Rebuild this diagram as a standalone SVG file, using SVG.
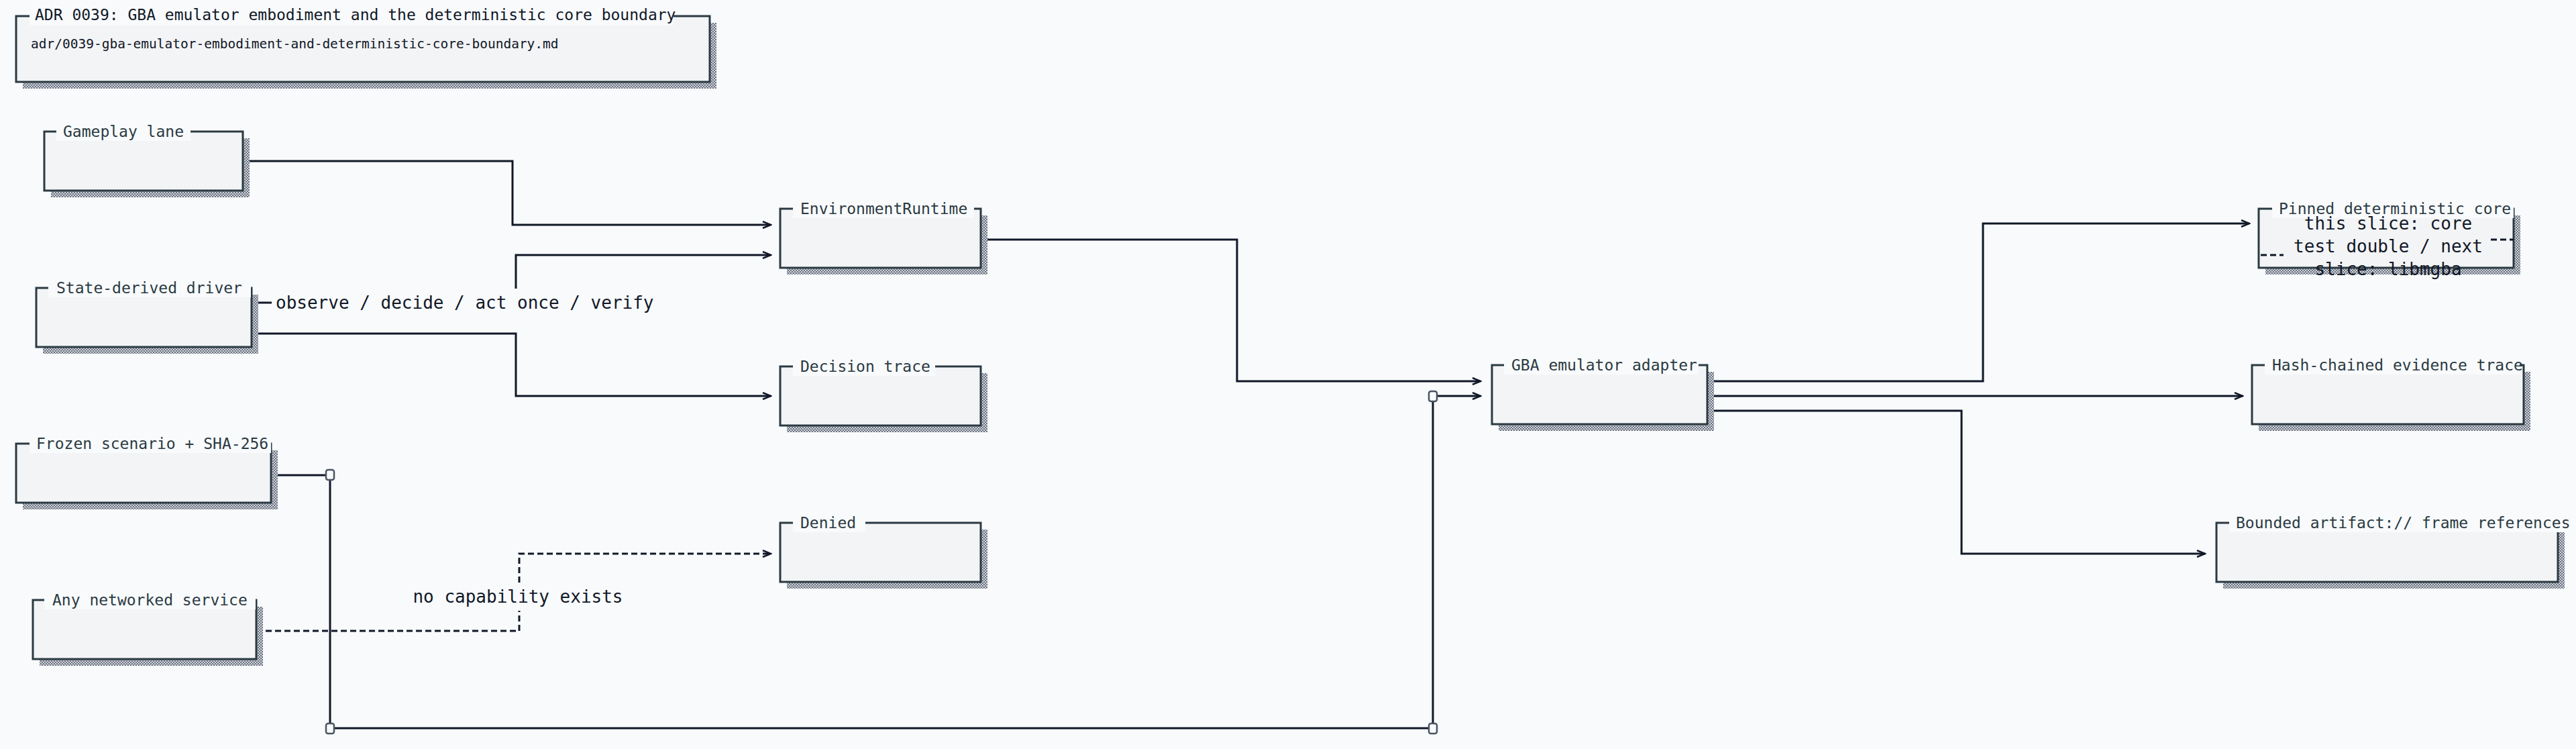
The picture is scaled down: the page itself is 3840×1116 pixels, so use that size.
<svg xmlns="http://www.w3.org/2000/svg" width="3840" height="1116" viewBox="0 0 3840 1116">
<style>
.box{fill:#f3f4f6;stroke:#2b3a42;stroke-width:3}
.sh{fill:url(#hatch)}
.lb{font-family:"DejaVu Sans Mono",monospace;font-size:23px;fill:#2b3a42}
.lbg{fill:#f8fafc}
.c{fill:none;stroke:#111827;stroke-width:3}
.d{stroke-dasharray:9 5}
.el{font-family:"DejaVu Sans Mono",monospace;font-size:26px;fill:#111827}
.j{fill:#f8fafc;stroke:#4b5563;stroke-width:2.5}
</style>
<defs>
<pattern id="hatch" width="4" height="4" patternUnits="userSpaceOnUse">
<rect width="4" height="4" fill="#d1d5db"/>
<rect width="2" height="2" fill="#6b7280"/>
<rect x="2" y="2" width="2" height="2" fill="#6b7280"/>
</pattern>
<marker id="a" markerWidth="16" markerHeight="12" refX="14" refY="6" orient="auto" markerUnits="userSpaceOnUse">
<path d="M2,1 L14,6 L2,11" fill="none" stroke="#111827" stroke-width="2.5"/>
</marker>
</defs>
<rect width="3840" height="1116" fill="#f8fafc"/>

<g id="title">
<rect class="sh" x="34" y="34" width="1034" height="98"/>
<rect class="box" x="24" y="24" width="1034" height="98"/>
<rect class="lbg" x="44" y="10" width="960" height="28"/>
<text class="lb" x="52" y="30" style="fill:#111827">ADR 0039: GBA emulator embodiment and the deterministic core boundary</text>
<text x="46" y="72" style="font-family:'DejaVu Sans Mono',monospace;font-size:19.5px;fill:#111827">adr/0039-gba-emulator-embodiment-and-deterministic-core-boundary.md</text>
</g>

<g id="connectors">
<path class="c" d="M362,240 H764 V335 H1149" marker-end="url(#a)"/>
<path class="c" d="M375,451 H405 M769,430 V380 H1149" marker-end="url(#a)"/>
<path class="c" d="M375,497 H769 V590 H1149" marker-end="url(#a)"/>
<path class="c" d="M404,708 H492 V1085 H2136 V590 H2207" marker-end="url(#a)"/>
<path class="c d" d="M382,940 H774 V910 M774,868 V825 H1149" marker-end="url(#a)"/>
<path class="c" d="M1462,357 H1844 V568 H2207" marker-end="url(#a)"/>
<path class="c" d="M2545,568 H2956 V333 H3353" marker-end="url(#a)"/>
<path class="c" d="M2545,590 H3343" marker-end="url(#a)"/>
<path class="c" d="M2545,612 H2924 V825 H3287" marker-end="url(#a)"/>
<rect class="j" x="486" y="700" width="12" height="15" rx="3"/>
<rect class="j" x="486" y="1078" width="12" height="15" rx="3"/>
<rect class="j" x="2130" y="1078" width="12" height="15" rx="3"/>
<rect class="j" x="2130" y="583" width="12" height="15" rx="3"/>
<text class="el" x="411" y="460">observe / decide / act once / verify</text>
<text class="el" x="772" y="898" text-anchor="middle">no capability exists</text>
</g>

<g id="gameplay">
<rect class="sh" x="76" y="206" width="296" height="88"/>
<rect class="box" x="66" y="196" width="296" height="88"/>
<rect class="lbg" x="84" y="182" width="200" height="28"/>
<text class="lb" x="94" y="204">Gameplay lane</text>
</g>
<g id="driver">
<rect class="sh" x="64" y="439" width="321" height="88"/>
<rect class="box" x="54" y="429" width="321" height="88"/>
<rect class="lbg" x="72" y="415" width="302" height="28"/>
<text class="lb" x="84" y="437">State-derived driver</text>
</g>
<g id="frozen">
<rect class="sh" x="34" y="671" width="380" height="88"/>
<rect class="box" x="24" y="661" width="380" height="88"/>
<rect class="lbg" x="44" y="647" width="360" height="28"/>
<text class="lb" x="54" y="669">Frozen scenario + SHA-256</text>
</g>
<g id="network">
<rect class="sh" x="59" y="904" width="333" height="88"/>
<rect class="box" x="49" y="894" width="333" height="88"/>
<rect class="lbg" x="66" y="880" width="315" height="28"/>
<text class="lb" x="78" y="902">Any networked service</text>
</g>
<g id="envruntime">
<rect class="sh" x="1173" y="321" width="299" height="88"/>
<rect class="box" x="1163" y="311" width="299" height="88"/>
<rect class="lbg" x="1182" y="297" width="270" height="28"/>
<text class="lb" x="1193" y="319">EnvironmentRuntime</text>
</g>
<g id="decision">
<rect class="sh" x="1173" y="556" width="299" height="88"/>
<rect class="box" x="1163" y="546" width="299" height="88"/>
<rect class="lbg" x="1182" y="532" width="212" height="28"/>
<text class="lb" x="1193" y="554">Decision trace</text>
</g>
<g id="denied">
<rect class="sh" x="1173" y="789" width="299" height="88"/>
<rect class="box" x="1163" y="779" width="299" height="88"/>
<rect class="lbg" x="1182" y="765" width="108" height="28"/>
<text class="lb" x="1193" y="787">Denied</text>
</g>
<g id="adapter">
<rect class="sh" x="2234" y="554" width="321" height="88"/>
<rect class="box" x="2224" y="544" width="321" height="88"/>
<rect class="lbg" x="2242" y="530" width="290" height="28"/>
<text class="lb" x="2253" y="552">GBA emulator adapter</text>
</g>
<g id="pinned">
<rect class="sh" x="3377" y="321" width="380" height="88"/>
<rect class="box" x="3367" y="311" width="380" height="88"/>
<rect class="lbg" x="3387" y="297" width="360" height="28"/>
<text class="lb" x="3397" y="319">Pinned deterministic core</text>
<path class="c d" d="M3370,380 H3404 M3713,357 H3747"/>
<text class="el" x="3560" y="342" text-anchor="middle">this slice: core</text>
<text class="el" x="3560" y="376" text-anchor="middle">test double / next</text>
<text class="el" x="3560" y="410" text-anchor="middle">slice: libmgba</text>
</g>
<g id="hash">
<rect class="sh" x="3367" y="554" width="405" height="88"/>
<rect class="box" x="3357" y="544" width="405" height="88"/>
<rect class="lbg" x="3376" y="530" width="380" height="28"/>
<text class="lb" x="3387" y="552">Hash-chained evidence trace</text>
</g>
<g id="bounded">
<rect class="sh" x="3314" y="789" width="509" height="88"/>
<rect class="box" x="3304" y="779" width="509" height="88"/>
<rect class="lbg" x="3323" y="765" width="500" height="28"/>
<text class="lb" x="3333" y="787">Bounded artifact:// frame references</text>
</g>
</svg>
